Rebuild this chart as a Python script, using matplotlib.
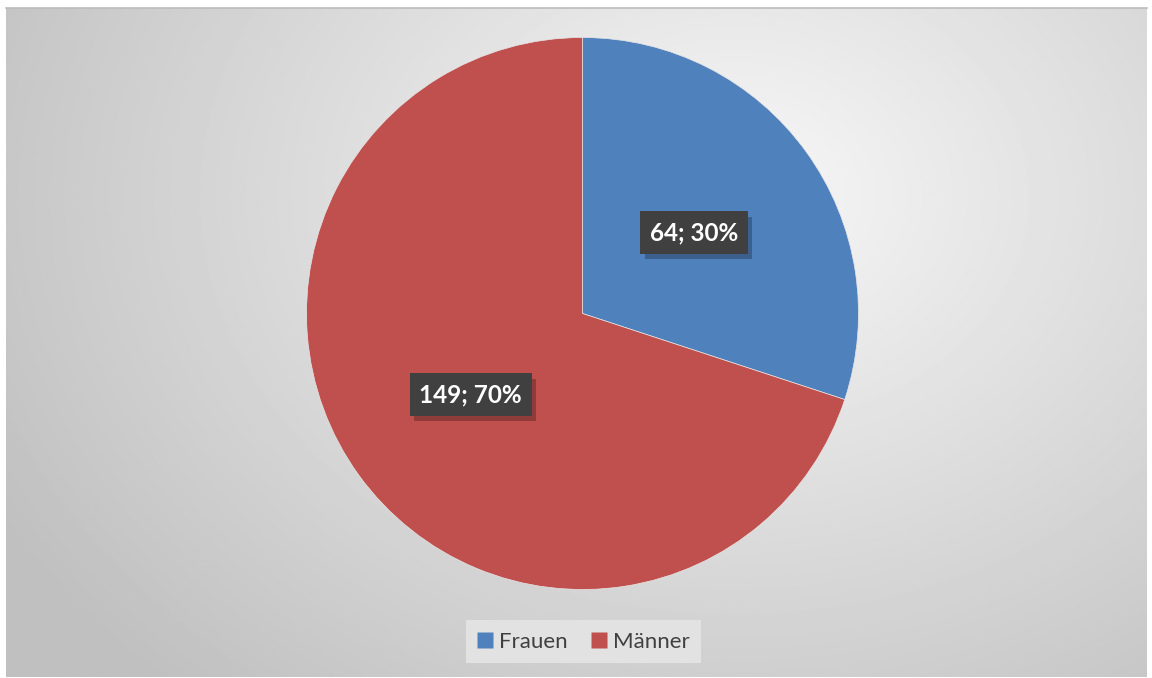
import numpy as np
import matplotlib
matplotlib.use("Agg")
import matplotlib.pyplot as plt
import matplotlib.patheffects as pe
from matplotlib.lines import Line2D

plt.rcParams['font.family'] = ['Lato', 'DejaVu Sans']

# Geschlechterverteilung
kategorien = ["Frauen", "Männer"]
anzahl = [64, 149]
farben = ["#4f81bd", "#c0504d"]

W, H = 1152, 678
fig = plt.figure(figsize=(W / 100, H / 100), dpi=100)
fig.patch.set_facecolor("white")

# Hintergrund mit radialem Verlauf
x0, y0, x1, y1 = 6, 8, 1147, 677
bg = fig.add_axes([x0 / W, 1 - y1 / H, (x1 - x0) / W, (y1 - y0) / H])
gx, gy = np.meshgrid(np.linspace(0, 1, 600), np.linspace(0, 1, 350))
dist = np.sqrt(((gx - 0.64) * 1.0) ** 2 + ((gy - 0.28) * 0.75) ** 2)
dist = np.clip(dist / 0.75, 0, 1)
hell, dunkel = 0.97, 0.75
grau = hell - (hell - dunkel) * dist
bg.imshow(grau, cmap="gray", vmin=0, vmax=1, aspect="auto",
          extent=[0, 1, 1, 0], interpolation="bilinear")
bg.set_axis_off()
fig.add_artist(Line2D([x0 / W, x1 / W], [1 - y0 / H] * 2, color="#bcbcbc", lw=1.2))

# Kreisdiagramm
cx, cy, r = 582.5, 313.5, 276
ax = fig.add_axes([(cx - r) / W, 1 - (cy + r) / H, 2 * r / W, 2 * r / H])
ax.set_facecolor("none")
gesamt = sum(anzahl)


def beschriftung(pct):
    wert = int(round(pct * gesamt / 100))
    return f"{wert}; {pct:.0f}%"


wedges, texte, autotexte = ax.pie(
    anzahl, colors=farben, startangle=90, counterclock=False,
    autopct=beschriftung, pctdistance=0.5,
    wedgeprops=dict(linewidth=0.5, edgecolor="#e6e6e6"),
)
for t in autotexte:
    t.set_color("white")
    t.set_fontsize(17.5)
    t.set_fontweight("bold")
    t.set_bbox(dict(boxstyle="square,pad=0.4", facecolor="#404040",
                    edgecolor="none"))
    # weicher Schatten unter dem Etikett
    t.get_bbox_patch().set_path_effects([
        pe.SimplePatchShadow(offset=(3, -4), shadow_rgbFace="black", alpha=0.25),
        pe.Normal(),
    ])
ax.set_xlim(-1, 1)
ax.set_ylim(-1, 1)
ax.set_aspect("equal")

# Legende
handles = [Line2D([], [], marker="s", linestyle="none", markersize=12,
                  markerfacecolor=c, markeredgecolor="none") for c in farben]
leg = fig.legend(handles, kategorien, loc="center", ncol=2,
                 bbox_to_anchor=(583.5 / W, 1 - 641.5 / H),
                 fontsize=16, frameon=True, fancybox=False,
                 handlelength=0.7, handletextpad=0.25, columnspacing=1.1,
                 borderpad=0.5, labelcolor="#404040")
leg.get_frame().set_facecolor("#e2e2e2")
leg.get_frame().set_edgecolor("none")
leg.get_frame().set_alpha(1)

fig.savefig("out.png", dpi=100)
